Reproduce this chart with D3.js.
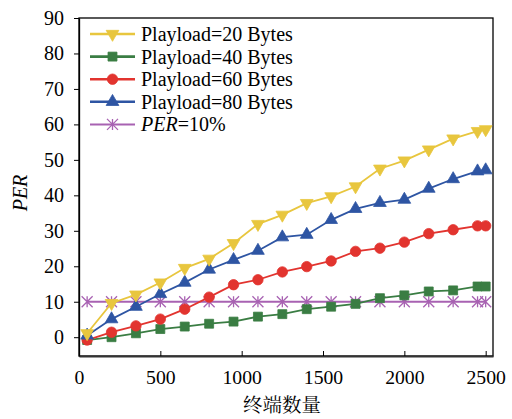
<!DOCTYPE html>
<html>
<head>
<meta charset="utf-8">
<script src="https://cdn.jsdelivr.net/npm/d3@7"></script>
<style>
  body { margin: 0; background: #fff; }
  svg { display: block; }
</style>
</head>
<body>
<div id="chart"></div>
<script>
// data
const nodes = [50, 200, 350, 500, 650, 800, 950, 1100, 1250, 1400, 1550, 1700, 1850, 2000, 2150, 2300, 2450, 2500];
const per20 = [1.1, 9.6, 12.0, 15.4, 19.5, 22.1, 26.5, 31.9, 34.5, 37.8, 39.7, 42.5, 47.5, 49.8, 52.9, 56.0, 58.1, 58.6];
const per40 = [-0.8, 0.0, 1.1, 2.3, 3.0, 3.8, 4.4, 5.8, 6.5, 7.9, 8.6, 9.4, 11.0, 11.8, 12.9, 13.2, 14.3, 14.3];
const per60 = [-0.8, 1.4, 3.2, 5.1, 7.9, 11.3, 14.8, 16.2, 18.4, 19.9, 21.5, 24.2, 25.1, 26.8, 29.2, 30.3, 31.4, 31.4];
const per80 = [0.5, 5.1, 8.6, 12.2, 15.4, 19.1, 21.8, 24.4, 28.2, 28.9, 33.1, 36.2, 37.9, 38.8, 41.9, 44.6, 46.8, 47.1];
const perLimit = nodes.map(() => 10);
const xTicks = [0, 500, 1000, 1500, 2000, 2500];
const yTicks = [0, 10, 20, 30, 40, 50, 60, 70, 80, 90];

const series = [
  {name: "Playload=20 Bytes", values: per20, color: "#E8C63E", marker: "down"},
  {name: "Playload=40 Bytes", values: per40, color: "#3A7D43", marker: "square"},
  {name: "Playload=60 Bytes", values: per60, color: "#E2342F", marker: "circle"},
  {name: "Playload=80 Bytes", values: per80, color: "#2E55A3", marker: "up"},
  {name: "PER=10%", values: perLimit, color: "#A862B2", marker: "star"}
];

const margin = {top: 18, right: 19, bottom: 63, left: 79},
    width = 512 - margin.left - margin.right,
    height = 419 - margin.top - margin.bottom;

const svg = d3.select("#chart")
  .append("svg")
    .attr("width", 512)
    .attr("height", 419)
  .append("g")
    .attr("transform", `translate(${margin.left},${margin.top})`);

const x = d3.scaleLinear().domain([0, 2545]).range([0, width]);
const y = d3.scaleLinear().domain([-5.3, 90]).range([height, 0]);

const serif = "Liberation Serif, serif";

// frame
svg.append("rect")
  .attr("width", width).attr("height", height)
  .attr("fill", "none").attr("stroke", "#000").attr("stroke-width", 1.3);

// x axis
const gx = svg.append("g")
  .attr("transform", `translate(0,${height})`)
  .call(d3.axisBottom(x).tickValues(xTicks).tickFormat(d3.format("d"))
    .tickSizeInner(-5).tickSizeOuter(0).tickPadding(14));
gx.attr("font-family", null).attr("font-size", null);
gx.select(".domain").attr("stroke", "#333").attr("stroke-width", 2);
gx.selectAll("text").style("font-family", serif).style("font-size", "19.7px").attr("fill", "#000");

// y axis
const gy = svg.append("g")
  .call(d3.axisLeft(y).tickValues(yTicks).tickSizeInner(5).tickSizeOuter(0).tickPadding(10));
gy.attr("font-family", null).attr("font-size", null);
gy.select(".domain").attr("stroke", "#000").attr("stroke-width", 1.3);
gy.selectAll("text").style("font-family", serif).style("font-size", "20px").attr("fill", "#000");

// axis titles
svg.append("text")
  .attr("x", width / 2 - 4)
  .attr("y", height + 56)
  .attr("text-anchor", "middle")
  .style("font-family", "Noto Serif CJK SC, Noto Sans CJK SC, serif")
  .style("font-size", "19.5px")
  .text("终端数量");

svg.append("text")
  .attr("transform", `translate(${20 - margin.left},${193 - margin.top}) rotate(-90)`)
  .attr("text-anchor", "middle")
  .attr("dy", "0.35em")
  .style("font-family", serif)
  .style("font-size", "20px")
  .style("font-style", "italic")
  .text("PER");

// markers
function markerPath(type) {
  if (type === "square") return d3.symbol(d3.symbolSquare, 80)();
  if (type === "circle") return d3.symbol(d3.symbolCircle, 85)();
  if (type === "up" || type === "down") return d3.symbol(d3.symbolTriangle, 70)();
  // asterisk: x with vertical bar
  const r = 5.5;
  return `M${-r},${-r}L${r},${r}M${-r},${r}L${r},${-r}M0,${-r}L0,${r}`;
}

function drawMarker(sel, s) {
  sel.append("path")
    .attr("d", markerPath(s.marker))
    .attr("transform", s.marker === "down" ? "rotate(180)" : null)
    .attr("fill", s.marker === "star" ? "none" : s.color)
    .attr("stroke", s.color)
    .attr("stroke-width", s.marker === "star" ? 1.3 : 0.8);
}

const line = d3.line().x(d => x(d[0])).y(d => y(d[1]));

const plot = svg.append("g");
// PER limit line first, then the payload series
[series[4], series[1], series[2], series[3], series[0]].forEach(s => {
  const pts = nodes.map((n, i) => [n, s.values[i]]);
  plot.append("path")
    .datum(pts)
    .attr("d", line)
    .attr("fill", "none")
    .attr("stroke", s.color)
    .attr("stroke-width", s.marker === "star" ? 2 : 1.8);
  plot.selectAll(null)
    .data(pts)
    .join("g")
      .attr("transform", d => `translate(${x(d[0])},${y(d[1])})`)
      .each(function() { drawMarker(d3.select(this), s); });
});

// legend
const legend = svg.append("g").attr("transform", "translate(11,16)");
series.forEach((s, i) => {
  const g = legend.append("g").attr("transform", `translate(0,${i * 22.6})`);
  g.append("line")
    .attr("x1", 0).attr("x2", 45)
    .attr("stroke", s.color)
    .attr("stroke-width", s.marker === "star" ? 2 : 2.6);
  const m = g.append("g").attr("transform", "translate(22.5,0)");
  drawMarker(m, s);
  const t = g.append("text")
    .attr("x", 51)
    .attr("dy", "0.35em")
    .style("font-family", serif)
    .style("font-size", "20px");
  if (s.marker === "star") {
    t.append("tspan").style("font-style", "italic").text("PER");
    t.append("tspan").text("=10%");
  } else {
    t.text(s.name);
  }
});
</script>
</body>
</html>
